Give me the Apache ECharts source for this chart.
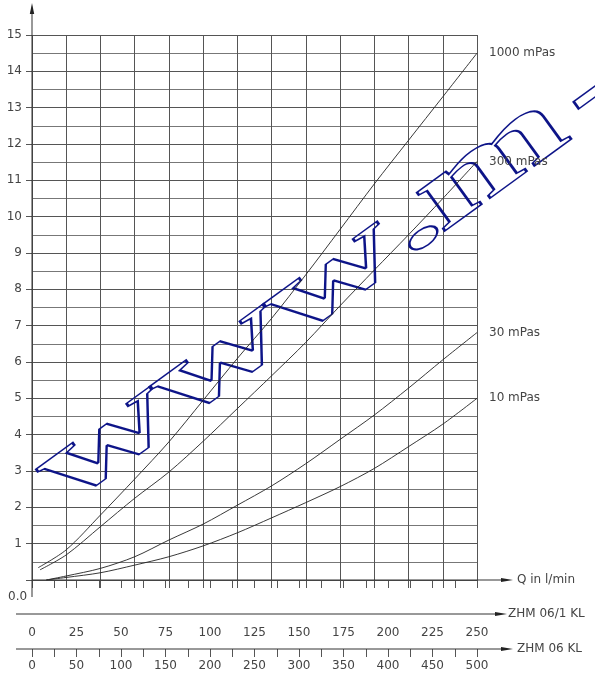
<!DOCTYPE html>
<html>
<head>
<meta charset="utf-8">
<script src="https://cdn.jsdelivr.net/npm/echarts@6/dist/echarts.min.js"></script>
<style>
  html, body { margin: 0; padding: 0; background: #fff; }
  #chart { width: 595px; height: 674px; }
</style>
</head>
<body>
<div id="chart"></div>
<script>
// Flow rate Q (l/min) at the vertical grid columns
const qColumns = [19.2, 38.5, 57.7, 76.9, 96.2, 115.4, 134.6, 153.8, 173.1, 192.3, 211.5, 230.8, 250];

// Pressure values (bar) at each column, per viscosity
const p1000 = [0.83, 1.79, 2.78, 3.8, 4.95, 6.1, 7.2, 8.4, 9.65, 10.9, 12.1, 13.3, 14.5];
const p300  = [0.69, 1.47, 2.25, 2.97, 3.82, 4.72, 5.62, 6.54, 7.55, 8.53, 9.5, 10.5, 11.52];
const p30   = [0.11, 0.32, 0.64, 1.1, 1.54, 2.06, 2.59, 3.2, 3.87, 4.54, 5.28, 6.06, 6.81];
const p10   = [0.07, 0.2, 0.41, 0.64, 0.94, 1.3, 1.71, 2.13, 2.57, 3.07, 3.67, 4.29, 5.0];

// First point of each curve [Q, p]
const start1000 = [3.5, 0.34];
const start300  = [4.5, 0.28];
const start30   = [8, 0];
const start10   = [8, 0];

const curveNames = ['1000 mPas', '300 mPas', '30 mPas', '10 mPas'];

// Secondary scales below the plot
const scaleNames = ['Q in l/min', 'ZHM 06/1 KL', 'ZHM 06 KL'];
const zhm061Max = 250;
const zhm06Max = 500;

const FONT = 'DejaVu Sans';
const AXIS = '#555';
const TEXT = '#444';

const chart = echarts.init(document.getElementById('chart'));

function curve(name, first, values) {
  return {
    name: name,
    type: 'line',
    xAxisIndex: 0,
    yAxisIndex: 0,
    data: [first].concat(qColumns.map((q, i) => [q, values[i]])),
    showSymbol: false,
    smooth: 0.3,
    silent: true,
    lineStyle: { color: '#222', width: 0.9 },
    endLabel: {
      show: true,
      formatter: '{a}',
      distance: 12,
      color: TEXT,
      fontFamily: FONT,
      fontSize: 12
    },
    z: 3
  };
}

const option = {
  animation: false,
  backgroundColor: '#fff',
  grid: { left: 32, top: 35, width: 445, height: 545, containLabel: false },
  xAxis: [
    { // Q / ZHM 06/1 KL scale
      type: 'value', min: 0, max: zhm061Max, interval: 12.5,
      position: 'bottom', offset: 34,
      axisLine: { show: false },
      axisTick: { show: true, length: 8, lineStyle: { color: AXIS } },
      axisLabel: {
        interval: 0, margin: 13, color: TEXT, fontFamily: FONT, fontSize: 12,
        formatter: v => (v % 25 === 0 ? String(v) : '')
      },
      splitLine: { show: false }
    },
    { // vertical grid columns
      type: 'value', min: 0, max: 13, interval: 1,
      position: 'bottom', offset: 0,
      axisLine: { show: false },
      axisTick: { show: true, length: 8, lineStyle: { color: AXIS } },
      axisLabel: { show: false },
      splitLine: { show: true, lineStyle: { color: AXIS, width: 1 } }
    },
    { // ZHM 06 KL scale
      type: 'value', min: 0, max: zhm06Max, interval: 25,
      position: 'bottom', offset: 69,
      axisLine: { show: false },
      axisTick: { show: true, length: 8, lineStyle: { color: AXIS } },
      axisLabel: {
        interval: 0, margin: 11, color: TEXT, fontFamily: FONT, fontSize: 12,
        formatter: v => (v % 50 === 0 ? String(v) : '')
      },
      splitLine: { show: false }
    }
  ],
  yAxis: {
    type: 'value', min: 0, max: 15, interval: 1,
    axisLine: { show: false },
    axisTick: { show: true, length: 6, lineStyle: { color: AXIS } },
    axisLabel: {
      margin: 10, color: TEXT, fontFamily: FONT, fontSize: 12,
      formatter: v => (v === 0 ? '' : String(v))
    },
    splitLine: { show: true, lineStyle: { color: AXIS, width: 1 } },
    minorTick: { show: false, splitNumber: 2 },
    minorSplitLine: { show: true, lineStyle: { color: '#777', width: 1 } }
  },
  series: [
    curve(curveNames[0], start1000, p1000),
    curve(curveNames[1], start300, p300),
    curve(curveNames[2], start30, p30),
    curve(curveNames[3], start10, p10)
  ]
};

chart.setOption(option);

// Axis lines with arrow heads, positioned from the chart's own scales
const x0 = chart.convertToPixel({ xAxisIndex: 0 }, 0);
const xEnd = chart.convertToPixel({ xAxisIndex: 0 }, zhm061Max);
const y0 = chart.convertToPixel({ yAxisIndex: 0 }, 0);
const yTop = chart.convertToPixel({ yAxisIndex: 0 }, 15);

function hArrow(y, xStart, tip) {
  return [
    { type: 'line', shape: { x1: xStart, y1: y, x2: tip - 6, y2: y },
      style: { stroke: '#333', lineWidth: 1 }, z: 10 },
    { type: 'polygon', shape: { points: [[tip - 12, y - 2], [tip, y], [tip - 12, y + 2]] },
      style: { fill: '#222' }, z: 10 }
  ];
}

function label(text, x, y) {
  return { type: 'text', x: x, y: y, z: 10,
    style: { text: text, fill: TEXT, font: '12px "' + FONT + '"', verticalAlign: 'middle' } };
}

const lowerY1 = y0 + 34;
const lowerY2 = y0 + 69;

// Outlined web address overlay: stretched serif letters laid on a rising baseline
const markFont = 104;
const markAngle = 36 * Math.PI / 180;
const markChars = [
  { ch: 'w', t: -44 },
  { ch: 'w', t: 96 },
  { ch: 'w', t: 236 },
  { ch: '.', t: 381 },
  { ch: 'm', t: 422 },
  { ch: '-', t: 600 }
];
const markEls = markChars.map(c => ({
  type: 'text',
  x: c.t, y: -0.27 * markFont,
  scaleX: 1.9,
  style: {
    text: c.ch,
    font: 'bold ' + markFont + 'px "Liberation Serif"',
    fill: 'transparent',
    stroke: '#0d1488',
    lineWidth: 1.5,
    align: 'left',
    verticalAlign: 'middle'
  }
}));

chart.setOption({
  graphic: [
    // vertical pressure axis
    { type: 'line', shape: { x1: x0, y1: y0 + 17, x2: x0, y2: yTop - 24 },
      style: { stroke: '#333', lineWidth: 1 }, z: 10 },
    { type: 'polygon', shape: { points: [[x0 - 2.2, yTop - 21], [x0, yTop - 32], [x0 + 2.2, yTop - 21]] },
      style: { fill: '#222' }, z: 10 },
    ...hArrow(y0, x0, xEnd + 36),
    ...hArrow(lowerY1, x0 - 16, xEnd + 30),
    ...hArrow(lowerY2, x0 - 16, xEnd + 36),
    label(scaleNames[0], xEnd + 40, y0),
    label(scaleNames[1], xEnd + 31, lowerY1),
    label(scaleNames[2], xEnd + 40, lowerY2),
    label('0.0', 8, y0 + 17),
    {
      type: 'group', x: 100, y: 483, rotation: markAngle, z: 20,
      children: markEls
    }
  ]
});
</script>
</body>
</html>
